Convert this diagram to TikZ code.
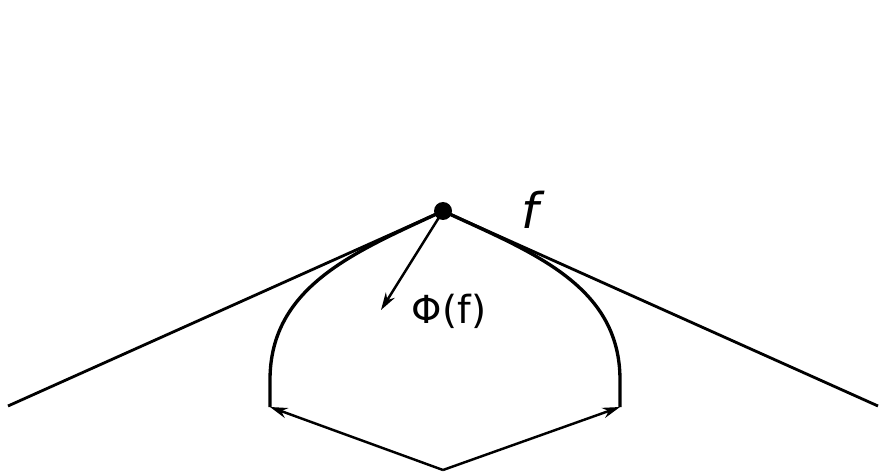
\documentclass[tikz,border=0pt]{standalone}
\usepackage{fontspec}
\setmainfont{DejaVu Sans}
\usetikzlibrary{arrows.meta}
\begin{document}
\begin{tikzpicture}[x=0.02cm,y=-0.02cm,
  edge/.style={line width=1.6pt},
  arc/.style={line width=1.9pt},
  arr/.style={line width=1.4pt,-{Stealth[length=10pt,width=6pt]}},
  lbl/.style={inner sep=0pt,font=\fontsize{22}{24}\selectfont}]
\useasboundingbox (0,0) rectangle (882,476);
\coordinate (apex) at (443,211);
\coordinate (lend) at (8,406);
\coordinate (rend) at (878,406);
\coordinate (la) at (270,380);
\coordinate (lb) at (270,407);
\coordinate (ra) at (620,380);
\coordinate (rb) at (620,407);
\coordinate (bot) at (443,470);
\coordinate (phi) at (381,310);
\draw[edge] (lend) -- (apex) -- (rend);
\draw[arc] (apex) to[out=205,in=90] (la) -- (lb);
\draw[arc] (apex) to[out=-25,in=90] (ra) -- (rb);
\draw[arr] (bot) -- (lb);
\draw[arr] (bot) -- (rb);
\draw[arr] (apex) -- (phi);
\fill (apex) circle (9);
\node[lbl] (phil) at (449,311) {Φ(f)};
\node[lbl,font=\fontsize{28}{30}\selectfont\itshape] (fl) at (530,210) {f};
\end{tikzpicture}
\end{document}
